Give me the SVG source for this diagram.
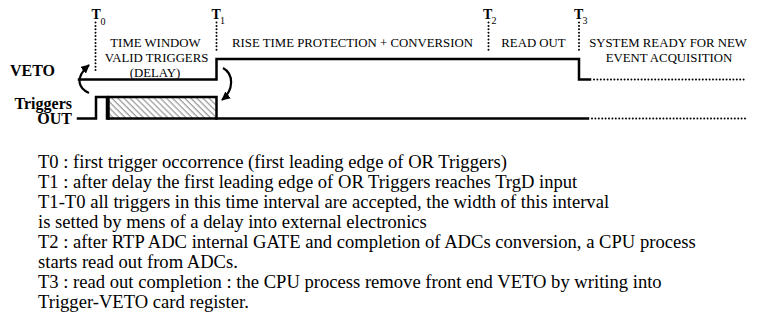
<svg xmlns="http://www.w3.org/2000/svg" width="757" height="323" viewBox="0 0 757 323">
  <style>
    .sig { fill: none; stroke: #000; stroke-width: 2.5; stroke-linejoin: miter; stroke-linecap: square; }
    .dot { fill: none; stroke: #000; stroke-width: 2; stroke-linecap: round; stroke-dasharray: 0 3.4; }
    .curve { fill: none; stroke: #000; stroke-width: 2.2; marker-end: url(#head); }
    .tick { font-family: "Liberation Serif", "Times New Roman", serif; font-weight: bold; font-size: 14px; fill: #000; }
    .sub { font-family: "Liberation Serif", "Times New Roman", serif; font-size: 10px; fill: #000; }
    .phase { font-family: "Liberation Serif", "Times New Roman", serif; font-size: 12.8px; fill: #000; text-anchor: middle; }
    .name { font-family: "Liberation Serif", "Times New Roman", serif; font-weight: bold; font-size: 16px; fill: #000; }
    .note { font-family: "Liberation Serif", "Times New Roman", serif; font-size: 18.6px; fill: #000; }
  </style>
  <defs>
    <marker id="head" viewBox="0 0 10 10" refX="9" refY="5" markerWidth="4" markerHeight="4" orient="auto" markerUnits="strokeWidth">
      <path d="M0 0 L10 5 L0 10 Z" fill="#000"/>
    </marker>
    <pattern id="hatch" patternUnits="userSpaceOnUse" width="4.3" height="10" patternTransform="rotate(-45)">
      <line x1="1" y1="0" x2="1" y2="10" stroke="#555" stroke-width="0.8"/>
    </pattern>
  </defs>

  <!-- time markers -->
  <g id="t0">
    <text class="tick" x="91.5" y="19">T</text><text class="sub" x="100.5" y="25">0</text>
    <line class="dot" x1="95.5" y1="22.5" x2="95.5" y2="72"/>
  </g>
  <g id="t1">
    <text class="tick" x="211.5" y="19">T</text><text class="sub" x="220" y="23.5">1</text>
    <line class="dot" x1="216.5" y1="22.5" x2="216.5" y2="52"/>
  </g>
  <g id="t2">
    <text class="tick" x="483" y="19">T</text><text class="sub" x="491.5" y="23.5">2</text>
    <line class="dot" x1="488.5" y1="22.5" x2="488.5" y2="52"/>
  </g>
  <g id="t3">
    <text class="tick" x="574" y="19">T</text><text class="sub" x="582.5" y="23.5">3</text>
    <line class="dot" x1="579" y1="22.5" x2="579" y2="52"/>
  </g>

  <!-- phase labels -->
  <g id="phase-window">
    <text class="phase" x="155.5" y="46.5">TIME WINDOW</text>
    <text class="phase" x="156.5" y="62">VALID TRIGGERS</text>
    <text class="phase" x="155" y="76.5">(DELAY)</text>
  </g>
  <g id="phase-conversion">
    <text class="phase" x="352.5" y="46.5">RISE TIME PROTECTION + CONVERSION</text>
  </g>
  <g id="phase-readout">
    <text class="phase" x="533.5" y="46.5">READ OUT</text>
  </g>
  <g id="phase-ready">
    <text class="phase" x="668" y="46.5">SYSTEM READY FOR NEW</text>
    <text class="phase" x="669" y="62">EVENT ACQUISITION</text>
  </g>

  <!-- signal names -->
  <g id="veto-label">
    <text class="name" x="10" y="76">VETO</text>
  </g>
  <g id="triggers-label">
    <text class="name" x="72" y="108.5" text-anchor="end">Triggers</text>
    <text class="name" x="72" y="124" text-anchor="end">OUT</text>
  </g>

  <!-- VETO waveform -->
  <g id="veto">
    <path class="sig" d="M79 79.5 H216.5 V59 H579 V79.5 H590"/>
    <line class="dot" x1="594" y1="79.5" x2="746" y2="79.5"/>
  </g>

  <!-- Triggers OUT waveform -->
  <g id="triggers">
    <path class="sig" d="M78 118.5 H96 V97 H107 V118.5 H108.5"/>
    <rect x="108.5" y="97" width="108" height="21.5" fill="url(#hatch)" stroke="#000" stroke-width="2.5"/>
    <path class="sig" d="M216.5 118.5 H588"/>
    <line class="dot" x1="592" y1="118.5" x2="746" y2="118.5"/>
  </g>

  <!-- cause/effect connectors -->
  <g id="connectors">
    <path class="curve" d="M89 93 C80 89, 73 79, 89 65"/>
    <path class="curve" d="M223 68 C234 74, 234 90, 222 100"/>
  </g>

  <!-- notes -->
  <g id="notes">
    <text class="note" x="38" y="168">T0 : first trigger occorrence (first leading edge of OR Triggers)</text>
    <text class="note" x="38" y="188">T1 : after delay the first leading edge of OR Triggers reaches TrgD input</text>
    <text class="note" x="38" y="208">T1-T0 all triggers in this time interval are accepted, the width of this interval</text>
    <text class="note" x="38" y="228">is setted by mens of a delay into external electronics</text>
    <text class="note" x="38" y="248">T2 : after RTP ADC internal GATE and completion of ADCs conversion, a CPU process</text>
    <text class="note" x="38" y="268">starts read out from ADCs.</text>
    <text class="note" x="38" y="288">T3 : read out completion : the CPU process remove front end VETO by writing into</text>
    <text class="note" x="38" y="308">Trigger-VETO card register.</text>
  </g>
</svg>
